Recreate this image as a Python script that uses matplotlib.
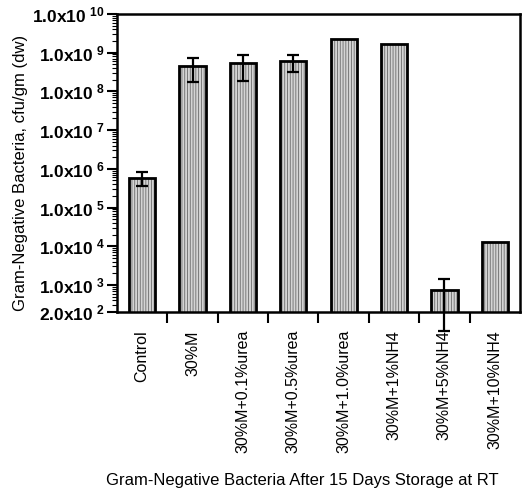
"""
Gram-negative bacteria counts after 15 days storage at RT (log-scale bar chart)
"""

import numpy as np
import matplotlib
matplotlib.use("Agg")
import matplotlib.pyplot as plt
from matplotlib.ticker import FixedLocator, FixedFormatter, NullFormatter

plt.rcParams['font.family'] = ['Liberation Sans', 'DejaVu Sans']
plt.rcParams['mathtext.fontset'] = 'custom'
plt.rcParams['mathtext.rm'] = 'Liberation Sans'
plt.rcParams['mathtext.bf'] = 'Liberation Sans:bold'
plt.rcParams['hatch.linewidth'] = 0.6

# data
treatments = ["Control", "30%M", "30%M+0.1%urea", "30%M+0.5%urea",
              "30%M+1.0%urea", "30%M+1%NH4", "30%M+5%NH4", "30%M+10%NH4"]
counts = [5.9e5, 4.6e8, 5.4e8, 6.0e8, 2.3e9, 1.7e9, 730, 1.27e4]
errors = [2.3e5, 2.8e8, 3.5e8, 2.9e8, 0, 0, 665, 0]

ytick_values = [2e2, 1e3, 1e4, 1e5, 1e6, 1e7, 1e8, 1e9, 1e10]
ytick_labels = [r"$\mathbf{2.0x10^{\ 2}}$"] + \
    [r"$\mathbf{1.0x10^{\ %d}}$" % k for k in range(3, 11)]

x = np.arange(len(treatments))
counts = np.array(counts)
errors = np.array(errors)

fig = plt.figure(figsize=(5.22, 4.95), dpi=100)
ax = fig.add_axes([0.2241, 0.3697, 0.7720, 0.6020])

# striped fill, then heavy black outline on top
ax.bar(x, counts, width=0.52, color='#d4d4d4', edgecolor='#6a6a6a',
       linewidth=0, hatch='||||||', zorder=2)
ax.bar(x, counts, width=0.52, fill=False, edgecolor='black',
       linewidth=2.0, zorder=3)

has_err = errors > 0
ax.errorbar(x[has_err], counts[has_err], yerr=errors[has_err], fmt='none',
            ecolor='black', elinewidth=1.6, capsize=4, capthick=1.6,
            zorder=4, clip_on=False)

ax.set_yscale('log')
ax.set_ylim(200, 1e10)
ax.set_xlim(-0.5, 7.5)

ax.yaxis.set_major_locator(FixedLocator(ytick_values))
ax.yaxis.set_major_formatter(FixedFormatter(ytick_labels))
minor = [m * 10 ** k for k in range(2, 10) for m in range(2, 10)]
minor = [v for v in minor if 200 < v < 1e10]
ax.yaxis.set_minor_locator(FixedLocator(minor))
ax.yaxis.set_minor_formatter(NullFormatter())

ax.set_xticks(x)
ax.set_xticklabels(treatments, rotation=90, fontsize=11.5)
ax.set_xticks(np.arange(0.5, 7.0, 1.0), minor=True)

ax.tick_params(axis='x', which='major', length=0, pad=13)
ax.tick_params(axis='x', which='minor', length=8, width=1.5, direction='out')
ax.tick_params(axis='y', which='major', length=7, width=1.5, pad=2,
               labelsize=12.5)
ax.tick_params(axis='y', which='minor', length=3.5, width=0.8)
ax.tick_params(right=False, top=False)

for s in ax.spines.values():
    s.set_linewidth(1.8)

ax.set_ylabel("Gram-Negative Bacteria, cfu/gm (dw)", fontsize=12)
ax.yaxis.set_label_coords(-0.221, 0.466)
ax.set_xlabel("Gram-Negative Bacteria After 15 Days Storage at RT",
              fontsize=12)
ax.xaxis.set_label_coords(0.46, -0.54)

fig.savefig("out.png", dpi=100)
